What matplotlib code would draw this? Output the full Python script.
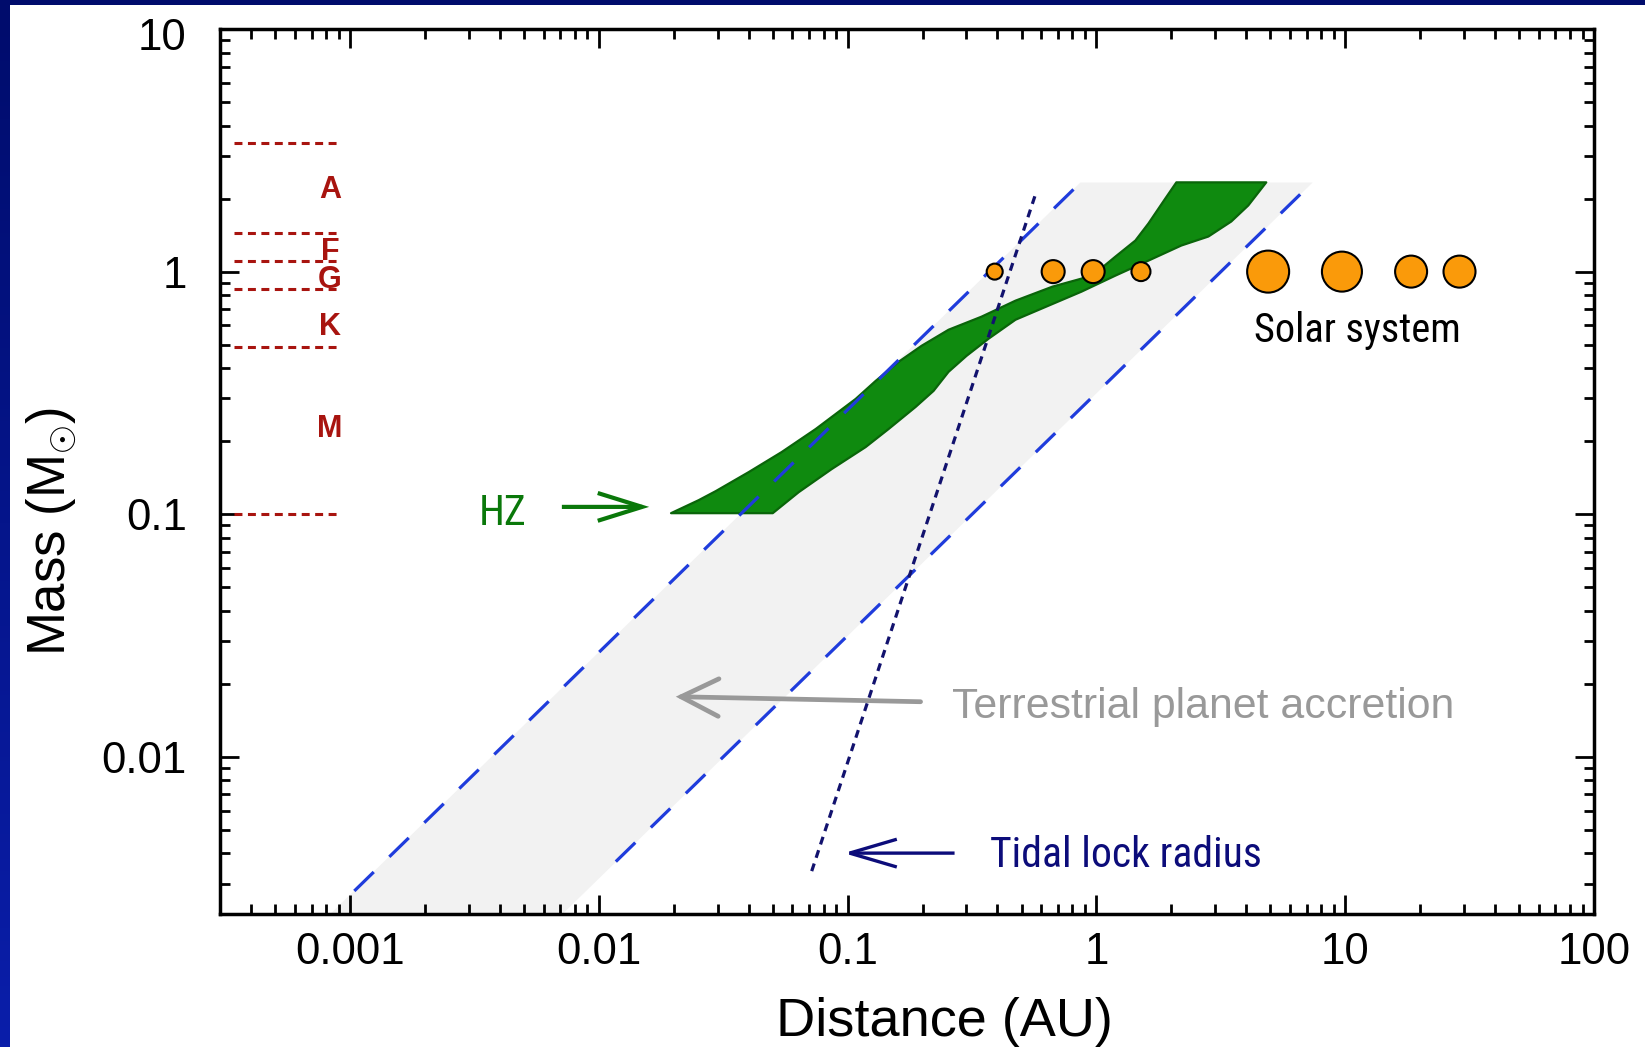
import numpy as np
import matplotlib
matplotlib.use("Agg")
import matplotlib.pyplot as plt
from matplotlib import font_manager
from matplotlib.patches import Polygon, Rectangle
from matplotlib.patches import ArrowStyle
from matplotlib.transforms import ScaledTranslation
from matplotlib.ticker import FixedLocator, FixedFormatter, LogLocator, NullFormatter

# ---------------- data ----------------
x_ticks = [0.001, 0.01, 0.1, 1, 10, 100]
x_tick_labels = ["0.001", "0.01", "0.1", "1", "10", "100"]
y_ticks = [0.01, 0.1, 1, 10]
y_tick_labels = ["0.01", "0.1", "1", "10"]
x_limits = [3.0e-4, 100]
y_limits = [0.00225, 10]

# spectral class boundaries (stellar mass, M_sun) and class labels
class_bounds = [3.4, 1.44, 1.11, 0.85, 0.49, 0.10]
class_names = ["A", "F", "G", "K", "M"]
class_label_mass = [2.02, 1.121, 0.859, 0.549, 0.208]
class_line_a = [3.4e-4, 9.0e-4]
class_label_a = 8.3e-4

# habitable zone: inner edge (bottom -> top), outer edge (top -> bottom)
hz_inner_a = [0.0195, 0.0252, 0.0295, 0.0400, 0.0543, 0.0744, 0.0895,
              0.1077, 0.1296, 0.1602, 0.1982, 0.2544, 0.3452, 0.4728,
              0.6656, 0.8707, 1.019, 1.192, 1.434, 1.618, 1.893, 2.096]
hz_inner_m = [0.101, 0.1143, 0.1245, 0.1491, 0.1804, 0.2245, 0.2589,
              0.2987, 0.3544, 0.4247, 0.4945, 0.5759, 0.652, 0.759,
              0.867, 0.9356, 1.0095, 1.153, 1.343, 1.579, 2.003, 2.333]
hz_outer_a = [4.816, 4.078, 3.484, 2.818, 2.194, 1.618, 1.192, 0.8707,
              0.6415, 0.4728, 0.3684, 0.3006, 0.2544, 0.2215, 0.1875,
              0.1461, 0.1181, 0.0863, 0.0636, 0.0500]
hz_outer_m = [2.333, 1.874, 1.609, 1.395, 1.281, 1.110, 0.9627, 0.8267,
              0.7236, 0.6333, 0.5288, 0.4496, 0.3862, 0.3224, 0.2767,
              0.2245, 0.1891, 0.1535, 0.1233, 0.101]

# terrestrial planet accretion zone: shaded region and its dashed edges
acc_band_a = [0.00074, 0.862, 7.40, 0.00635]
acc_band_m = [0.0020, 2.33, 2.33, 0.0020]
acc_inner_a = [0.00104, 0.845]
acc_inner_m = [0.0028, 2.28]
acc_outer_a = [0.0117, 7.22]
acc_outer_m = [0.0037, 2.28]

# tidal lock radius
tidal_a = [0.0717, 0.574]
tidal_m = [0.00338, 2.14]

# solar system planets (distance AU, host star mass, marker diameter px)
planet_names = ["Mercury", "Venus", "Earth", "Mars",
                "Jupiter", "Saturn", "Uranus", "Neptune"]
planet_a = [0.39, 0.67, 0.97, 1.51, 4.9, 9.7, 18.4, 28.8]
planet_m = [1.0, 1.0, 1.0, 1.0, 1.0, 1.0, 1.0, 1.0]
planet_diam_px = [16, 23, 23, 19, 42, 40, 32, 32]

# ---------------- style ----------------
W, H, DPI = 1645, 1047, 100
px2pt = 72.0 / DPI

names = {f.name for f in font_manager.fontManager.ttflist}
narrow, narrow_scale = "Liberation Sans", 0.87
for fam, sc in (("Liberation Sans Narrow", 1.0), ("Arial Narrow", 1.0),
                ("Nimbus Sans Narrow", 1.0), ("Roboto Condensed", 0.94)):
    if fam in names:
        narrow, narrow_scale = fam, sc
        break

plt.rcParams["font.family"] = ["Liberation Sans", "DejaVu Sans"]
plt.rcParams["mathtext.fontset"] = "custom"
plt.rcParams["mathtext.rm"] = "Liberation Sans"
plt.rcParams["mathtext.it"] = "Liberation Sans:italic"

fig = plt.figure(figsize=(W / DPI, H / DPI), dpi=DPI, facecolor="white")
ax_l, ax_r, ax_t, ax_b = 220, 1594, 29, 914
ax = fig.add_axes([ax_l / W, 1 - ax_b / H, (ax_r - ax_l) / W, (ax_b - ax_t) / H])
ax.set_xscale("log")
ax.set_yscale("log")
ax.set_xlim(*x_limits)
ax.set_ylim(*y_limits)

# accretion band
ax.add_patch(Polygon(list(zip(acc_band_a, acc_band_m)), closed=True,
                     facecolor="#f2f2f2", edgecolor="none", zorder=1))

# habitable zone
hz_poly = list(zip(hz_inner_a + hz_outer_a, hz_inner_m + hz_outer_m))
ax.add_patch(Polygon(hz_poly, closed=True, facecolor="#0f8a0f",
                     edgecolor="#0a650a", linewidth=1.6, joinstyle="round",
                     zorder=2))

# accretion zone edges
for a, m in ((acc_inner_a, acc_inner_m), (acc_outer_a, acc_outer_m)):
    ax.plot(a, m, color="#1f3cdc", lw=2.3, linestyle=(0, (8.5, 6.8)),
            dash_capstyle="butt", zorder=3)

# tidal lock radius
ax.plot(tidal_a, tidal_m, color="#12126e", lw=2.3, linestyle=(0, (2.5, 1.9)),
        dash_capstyle="butt", zorder=3)

# spectral class boundaries
for mb in class_bounds:
    ax.plot(class_line_a, [mb, mb], color="#a8140f", lw=2.2,
            linestyle=(0, (2.6, 1.8)), dash_capstyle="butt", zorder=3)
for name, mlab in zip(class_names, class_label_mass):
    ax.text(class_label_a, mlab, name, color="#a8140f", fontsize=22,
            fontweight="bold", ha="center", va="baseline", zorder=4)

# solar system planets
sizes = [(d * px2pt) ** 2 for d in planet_diam_px]
ax.scatter(planet_a, planet_m, s=sizes, facecolor="#fa9a0a",
           edgecolor="black", linewidth=1.5, zorder=5)
ax.text(4.31, 0.515, "Solar system", fontsize=31 * narrow_scale,
        family=[narrow, "DejaVu Sans"], color="black", ha="left",
        va="baseline", zorder=5)

# annotations
def arrow(tail, tip, color, lw, hl, hw, cap="butt"):
    ax.annotate("", xy=tip, xytext=tail, xycoords="data", textcoords="data",
                arrowprops=dict(arrowstyle=ArrowStyle("->", head_length=hl,
                                                      head_width=hw),
                                mutation_scale=1, color=color, lw=lw,
                                joinstyle="miter", capstyle=cap,
                                shrinkA=0, shrinkB=0),
                zorder=6)

ax.text(0.00409, 0.0901, "HZ", fontsize=32 * narrow_scale,
        family=[narrow, "DejaVu Sans"], color="#0a780a", ha="center",
        va="baseline", zorder=6)
arrow((0.0071, 0.1072), (0.01593, 0.1072), "#0a780a", 3.0, 32, 10)

ax.text(0.3718, 0.00351, "Tidal lock radius", fontsize=32 * narrow_scale,
        family=[narrow, "DejaVu Sans"], color="#0c0c7a", ha="left",
        va="baseline", zorder=6)
arrow((0.269, 0.00401), (0.0964, 0.00401), "#0c0c7a", 2.4, 34, 10)

ax.text(0.2617, 0.01449, "Terrestrial planet accretion", fontsize=30.8,
        color="#999999", ha="left", va="baseline", zorder=6)
arrow((0.1964, 0.01687), (0.02038, 0.0177), "#999999", 3.4, 27, 13.5,
      cap="round")

# axes styling
for sp in ax.spines.values():
    sp.set_linewidth(2.5)
    sp.set_zorder(7)
ax.xaxis.set_major_locator(FixedLocator(x_ticks))
ax.xaxis.set_major_formatter(FixedFormatter(x_tick_labels))
ax.yaxis.set_major_locator(FixedLocator(y_ticks))
ax.yaxis.set_major_formatter(FixedFormatter(y_tick_labels))
ax.xaxis.set_minor_locator(LogLocator(base=10, subs=np.arange(2, 10), numticks=20))
ax.yaxis.set_minor_locator(LogLocator(base=10, subs=np.arange(2, 10), numticks=20))
ax.xaxis.set_minor_formatter(NullFormatter())
ax.yaxis.set_minor_formatter(NullFormatter())
ax.tick_params(which="both", direction="in", top=True, right=True,
               width=2.0, color="black")
ax.tick_params(which="major", length=14, labelsize=31.5)
ax.tick_params(which="minor", length=7)
ax.tick_params(axis="x", which="major", pad=13)
ax.tick_params(axis="y", which="major", pad=24)

# the topmost y label sits a little below its tick
top_lab = ax.yaxis.get_major_ticks()[-1].label1
top_lab.set_transform(top_lab.get_transform()
                      + ScaledTranslation(0, -3.5 / 72, fig.dpi_scale_trans))

ax.set_xlabel("Distance (AU)", fontsize=39)
ax.xaxis.set_label_coords((944 - ax_l) / (ax_r - ax_l), (ax_b - 997) / (ax_b - ax_t))
ax.set_ylabel(r"Mass (M$_{\odot}$)", fontsize=38)
ax.yaxis.set_label_coords((79 - ax_l) / (ax_r - ax_l), (ax_b - 531) / (ax_b - ax_t))

# slide frame: navy strip on top, blue gradient strip on the left
fig.patches.append(Rectangle((0, 1 - 5 / H), 1, 5 / H, transform=fig.transFigure,
                             facecolor="#000c6c", edgecolor="none", zorder=10))
bax = fig.add_axes([0, 0, 10 / W, 1])
grad = np.linspace(0, 1, 256)[:, None]
top_c = np.array([0, 12, 108]) / 255
bot_c = np.array([10, 30, 170]) / 255
img = top_c[None, None, :] * (1 - grad[:, :, None]) + bot_c[None, None, :] * grad[:, :, None]
bax.imshow(img, aspect="auto", extent=[0, 1, 0, 1])
bax.axis("off")

fig.savefig("out.png", dpi=DPI, facecolor="white")
